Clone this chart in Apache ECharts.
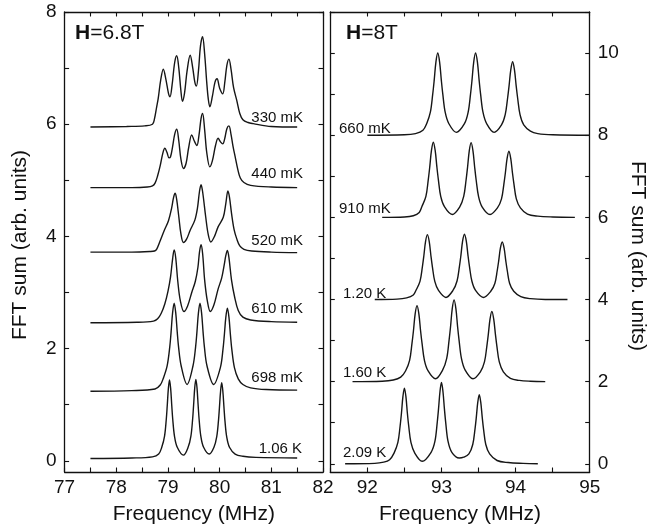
<!DOCTYPE html>
<html>
<head>
<meta charset="utf-8">
<script src="https://cdn.jsdelivr.net/npm/echarts@6/dist/echarts.min.js"></script>
<style>
html,body{margin:0;padding:0;background:#fff;}
#chart{width:648px;height:532px;}
</style>
</head>
<body>
<div id="chart"></div>
<script>
// ---------- DATA ----------
// Left panel, H = 6.8 T : [frequency MHz, FFT sum]
const c330mK = [[77.5,5.95],[78.2,5.96],[78.55,5.97],[78.70,6.0],[78.74,6.1],[78.78,6.3],[78.81,6.45],[78.86,6.79],[78.91,6.98],[78.96,6.8],[79.01,6.55],[79.04,6.49],[79.08,6.7],[79.13,7.1],[79.17,7.22],[79.21,7.0],[79.25,6.6],[79.28,6.41],[79.32,6.55],[79.37,6.95],[79.43,7.23],[79.48,7.0],[79.52,6.75],[79.55,6.68],[79.59,6.95],[79.63,7.4],[79.67,7.56],[79.71,7.25],[79.75,6.75],[79.78,6.45],[79.81,6.31],[79.86,6.5],[79.91,6.75],[79.95,6.81],[80.0,6.64],[80.06,6.54],[80.10,6.75],[80.14,7.05],[80.18,7.16],[80.22,6.98],[80.27,6.65],[80.33,6.43],[80.39,6.19],[80.45,6.08],[80.55,6.03],[80.65,6.01],[81.0,5.96],[81.5,5.95]];
const c440mK = [[77.5,4.87],[78.3,4.87],[78.6,4.88],[78.70,4.9],[78.75,4.95],[78.80,5.08],[78.85,5.26],[78.90,5.48],[78.94,5.57],[78.98,5.5],[79.02,5.4],[79.05,5.42],[79.09,5.6],[79.13,5.82],[79.17,5.91],[79.21,5.7],[79.25,5.38],[79.30,5.21],[79.35,5.3],[79.40,5.58],[79.46,5.81],[79.51,5.7],[79.56,5.62],[79.60,5.8],[79.64,6.1],[79.67,6.19],[79.71,5.9],[79.75,5.5],[79.81,5.24],[79.86,5.35],[79.92,5.62],[79.97,5.75],[80.02,5.68],[80.06,5.65],[80.10,5.75],[80.14,5.92],[80.18,5.97],[80.22,5.82],[80.26,5.6],[80.30,5.42],[80.35,5.2],[80.40,5.04],[80.47,4.96],[80.6,4.91],[81.0,4.88],[81.5,4.87]];
const c520mK = [[77.5,3.72],[78.3,3.72],[78.65,3.73],[78.74,3.74],[78.78,3.77],[78.84,3.9],[78.93,4.11],[79.01,4.28],[79.07,4.5],[79.11,4.7],[79.14,4.77],[79.17,4.65],[79.21,4.35],[79.25,4.05],[79.30,3.89],[79.36,3.95],[79.43,4.11],[79.52,4.29],[79.57,4.5],[79.61,4.8],[79.64,4.92],[79.67,4.8],[79.73,4.35],[79.78,4.03],[79.83,3.90],[79.90,4.0],[79.97,4.17],[80.07,4.34],[80.12,4.59],[80.16,4.81],[80.19,4.7],[80.23,4.41],[80.28,4.12],[80.33,3.96],[80.39,3.83],[80.47,3.77],[80.62,3.74],[81.0,3.72],[81.5,3.71]];
const c610mK = [[77.5,2.46],[78.4,2.47],[78.72,2.49],[78.80,2.53],[78.87,2.63],[78.94,2.8],[79.0,3.02],[79.05,3.28],[79.09,3.6],[79.12,3.76],[79.15,3.62],[79.19,3.2],[79.24,2.85],[79.31,2.66],[79.38,2.76],[79.46,3.0],[79.53,3.2],[79.58,3.45],[79.61,3.72],[79.64,3.85],[79.67,3.7],[79.71,3.22],[79.76,2.86],[79.82,2.66],[79.89,2.78],[79.97,3.06],[80.04,3.26],[80.09,3.5],[80.12,3.66],[80.15,3.75],[80.18,3.62],[80.23,3.22],[80.29,2.92],[80.36,2.68],[80.45,2.56],[80.6,2.51],[81.0,2.48],[81.5,2.47]];
const c698mK = [[77.5,1.24],[78.3,1.25],[78.75,1.28],[78.85,1.35],[78.91,1.47],[78.984,1.69],[79.035,2.03],[79.06,2.29],[79.09,2.64],[79.12,2.81],[79.15,2.64],[79.18,2.29],[79.205,2.03],[79.256,1.69],[79.37,1.36],[79.484,1.69],[79.535,2.03],[79.56,2.29],[79.59,2.64],[79.62,2.81],[79.65,2.64],[79.68,2.29],[79.705,2.03],[79.756,1.69],[79.885,1.36],[80.014,1.66],[80.065,1.99],[80.09,2.23],[80.12,2.56],[80.15,2.72],[80.18,2.56],[80.21,2.23],[80.235,1.99],[80.286,1.66],[80.36,1.46],[80.45,1.36],[80.6,1.30],[80.9,1.27],[81.5,1.26]];
const c106K = [[77.5,0.04],[78.3,0.05],[78.7,0.07],[78.82,0.12],[78.88,0.24],[78.934,0.44],[78.968,0.745],[78.986,0.98],[79.008,1.29],[79.03,1.44],[79.052,1.29],[79.074,0.98],[79.092,0.745],[79.126,0.44],[79.18,0.24],[79.30,0.10],[79.39,0.24],[79.444,0.44],[79.478,0.75],[79.496,0.99],[79.518,1.30],[79.54,1.45],[79.562,1.30],[79.584,0.99],[79.602,0.75],[79.636,0.44],[79.69,0.24],[79.80,0.12],[79.89,0.24],[79.944,0.43],[79.978,0.72],[79.996,0.95],[80.018,1.24],[80.04,1.39],[80.062,1.24],[80.084,0.95],[80.102,0.72],[80.136,0.43],[80.19,0.24],[80.30,0.12],[80.45,0.08],[80.7,0.06],[81.5,0.05]];

// Right panel, H = 8 T
const c660mK = [[92.0,8.0],[92.5,8.01],[92.65,8.04],[92.75,8.12],[92.80,8.28],[92.85,8.56],[92.882,9.0],[92.902,9.34],[92.925,9.78],[92.95,10.0],[92.975,9.78],[92.998,9.34],[93.018,9.0],[93.05,8.56],[93.10,8.28],[93.20,8.07],[93.31,8.28],[93.36,8.56],[93.392,9.0],[93.412,9.34],[93.435,9.78],[93.46,10.0],[93.485,9.78],[93.508,9.34],[93.528,9.0],[93.56,8.56],[93.61,8.28],[93.71,8.07],[93.81,8.25],[93.86,8.5],[93.892,8.9],[93.912,9.2],[93.935,9.59],[93.96,9.79],[93.985,9.59],[94.008,9.2],[94.028,8.9],[94.06,8.5],[94.11,8.25],[94.2,8.1],[94.3,8.04],[94.5,8.01],[95.0,8.0]];
const c910mK = [[92.2,6.0],[92.5,6.01],[92.62,6.04],[92.70,6.12],[92.735,6.26],[92.79,6.51],[92.822,6.92],[92.842,7.23],[92.865,7.63],[92.89,7.83],[92.915,7.63],[92.938,7.23],[92.958,6.92],[92.99,6.51],[93.04,6.26],[93.145,6.07],[93.245,6.25],[93.30,6.51],[93.332,6.91],[93.352,7.22],[93.375,7.62],[93.40,7.82],[93.425,7.62],[93.448,7.22],[93.468,6.91],[93.50,6.51],[93.55,6.25],[93.655,6.07],[93.755,6.23],[93.81,6.45],[93.842,6.81],[93.862,7.08],[93.885,7.43],[93.91,7.61],[93.935,7.43],[93.958,7.08],[93.978,6.81],[94.01,6.45],[94.065,6.23],[94.16,6.08],[94.3,6.03],[94.5,6.01],[94.8,6.0]];
const c120K = [[92.1,4.0],[92.4,4.01],[92.53,4.04],[92.62,4.11],[92.655,4.22],[92.71,4.44],[92.742,4.79],[92.762,5.06],[92.785,5.41],[92.81,5.58],[92.835,5.41],[92.858,5.06],[92.878,4.79],[92.91,4.44],[92.96,4.22],[93.06,4.05],[93.155,4.22],[93.21,4.45],[93.242,4.80],[93.262,5.07],[93.285,5.42],[93.31,5.59],[93.335,5.42],[93.358,5.07],[93.378,4.80],[93.41,4.45],[93.46,4.22],[93.565,4.05],[93.665,4.20],[93.72,4.39],[93.752,4.70],[93.772,4.94],[93.795,5.25],[93.82,5.40],[93.845,5.25],[93.868,4.94],[93.888,4.70],[93.92,4.39],[93.975,4.20],[94.07,4.07],[94.2,4.02],[94.4,4.0],[94.7,4.0]];
const c160K = [[91.8,2.0],[92.2,2.01],[92.35,2.04],[92.45,2.11],[92.515,2.26],[92.57,2.52],[92.602,2.93],[92.622,3.24],[92.645,3.65],[92.67,3.85],[92.695,3.65],[92.718,3.24],[92.738,2.93],[92.77,2.52],[92.82,2.26],[92.92,2.07],[93.015,2.28],[93.07,2.56],[93.102,3.0],[93.122,3.33],[93.145,3.77],[93.17,3.99],[93.195,3.77],[93.218,3.33],[93.238,3.0],[93.27,2.56],[93.32,2.28],[93.425,2.07],[93.525,2.24],[93.58,2.48],[93.612,2.86],[93.632,3.15],[93.655,3.52],[93.68,3.71],[93.705,3.52],[93.728,3.15],[93.748,2.86],[93.78,2.48],[93.835,2.24],[93.93,2.08],[94.05,2.03],[94.2,2.01],[94.4,2.0]];
const c209K = [[91.7,0.0],[92.1,0.01],[92.22,0.04],[92.30,0.10],[92.36,0.26],[92.412,0.52],[92.442,0.92],[92.46,1.23],[92.48,1.64],[92.50,1.84],[92.52,1.64],[92.54,1.23],[92.558,0.92],[92.588,0.52],[92.64,0.26],[92.74,0.06],[92.86,0.28],[92.912,0.55],[92.942,0.99],[92.96,1.33],[92.98,1.76],[93.0,1.98],[93.02,1.76],[93.04,1.33],[93.058,0.99],[93.088,0.55],[93.14,0.28],[93.24,0.14],[93.30,0.16],[93.37,0.24],[93.422,0.47],[93.452,0.84],[93.47,1.13],[93.49,1.50],[93.51,1.68],[93.53,1.50],[93.55,1.13],[93.568,0.84],[93.598,0.47],[93.65,0.24],[93.75,0.08],[93.9,0.03],[94.1,0.01],[94.3,0.0]];

const leftCurves = [c330mK, c440mK, c520mK, c610mK, c698mK, c106K];
const rightCurves = [c660mK, c910mK, c120K, c160K, c209K];
const leftNames = ['330 mK', '440 mK', '520 mK', '610 mK', '698 mK', '1.06 K'];
const rightNames = ['660 mK', '910 mK', '1.20 K', '1.60 K', '2.09 K'];

// Axis ticks / labels
const leftXRange = [77, 82];
const rightXRange = [91.5, 95];
const leftYTicks = [0,1,2,3,4,5,6,7,8];
const leftYLabels = [0,2,4,6,8];
const rightYTicks = [0,1,2,3,4,5,6,7,8,9,10,11];
const rightYLabels = [0,2,4,6,8,10];
const xTitle = 'Frequency (MHz)';
const yTitle = 'FFT sum (arb. units)';

// ---------- CHART ----------
const FONT = '"Liberation Sans", Arial, Helvetica, sans-serif';
const INK = '#111';
const chart = echarts.init(document.getElementById('chart'), null, {renderer: 'canvas'});

const axisLine = {show: true, onZero: false, lineStyle: {color: INK, width: 1.3}};
const tick = (extra) => Object.assign({show: true, inside: true, length: 4.5, lineStyle: {color: INK, width: 1.1}}, extra || {});

function xAxisDef(grid, range, bottom) {
  return {
    type: 'value', gridIndex: grid, min: range[0], max: range[1], interval: 0.5,
    position: bottom ? 'bottom' : 'top',
    axisLine: axisLine, axisTick: tick(), splitLine: {show: false},
    axisLabel: bottom ? {
      show: true, color: INK, fontSize: 19, fontFamily: FONT, margin: 6,
      formatter: v => (Math.abs(v - Math.round(v)) < 1e-6 ? String(Math.round(v)) : '')
    } : {show: false},
    name: bottom ? xTitle : '', nameLocation: 'middle', nameGap: 32,
    nameTextStyle: {color: INK, fontSize: 21, fontFamily: FONT}
  };
}
function yAxisDef(grid, max, ticks, labels, pos, showLabels) {
  return {
    type: 'value', gridIndex: grid, min: -0.2, max: max, position: pos,
    axisLine: axisLine, splitLine: {show: false},
    axisTick: tick({customValues: ticks}),
    axisLabel: showLabels ? {show: true, color: INK, fontSize: 19, fontFamily: FONT, margin: 8, customValues: labels}
                          : {show: false}
  };
}

const series = [];
leftCurves.forEach((d, i) => series.push({
  name: leftNames[i], type: 'line', xAxisIndex: 0, yAxisIndex: 0, data: d,
  showSymbol: false, symbol: 'none', smooth: 0.35, silent: true,
  lineStyle: {color: '#161616', width: 1.4}
}));
rightCurves.forEach((d, i) => series.push({
  name: rightNames[i], type: 'line', xAxisIndex: 2, yAxisIndex: 2, data: d,
  showSymbol: false, symbol: 'none', smooth: 0.35, silent: true,
  lineStyle: {color: '#161616', width: 1.4}
}));

// label layout (pixel positions of the annotations)
const leftLabelPos = [[303,125],[303,181.5],[303,248],[303,316.5],[303,385],[302,456]];
const rightLabelPos = [[339,136],[339,216.5],[343,301.5],[343,380],[343,460]];
const graphic = [];
leftNames.forEach((t, i) => graphic.push({type: 'text', x: leftLabelPos[i][0], y: leftLabelPos[i][1], silent: true,
  style: {text: t, fill: INK, font: '15px ' + FONT, textAlign: 'right', textVerticalAlign: 'bottom'}}));
rightNames.forEach((t, i) => graphic.push({type: 'text', x: rightLabelPos[i][0], y: rightLabelPos[i][1], silent: true,
  style: {text: t, fill: INK, font: '15px ' + FONT, textAlign: 'left', textVerticalAlign: 'bottom'}}));
graphic.push({type: 'text', x: 75, y: 23, silent: true,
  style: {text: '{b|H}=6.8T', fill: INK, font: '21px ' + FONT, textVerticalAlign: 'top',
    rich: {b: {fontWeight: 'bold', fontSize: 21, fontFamily: FONT, fill: INK}}}});
graphic.push({type: 'text', x: 346, y: 23, silent: true,
  style: {text: '{b|H}=8T', fill: INK, font: '21px ' + FONT, textVerticalAlign: 'top',
    rich: {b: {fontWeight: 'bold', fontSize: 21, fontFamily: FONT, fill: INK}}}});
graphic.push({type: 'text', x: 20, y: 245, rotation: Math.PI / 2, silent: true,
  style: {text: yTitle, fill: INK, font: '21px ' + FONT, textAlign: 'center', textVerticalAlign: 'middle'}});
graphic.push({type: 'text', x: 638, y: 256, rotation: -Math.PI / 2, silent: true,
  style: {text: yTitle, fill: INK, font: '21px ' + FONT, textAlign: 'center', textVerticalAlign: 'middle'}});

chart.setOption({
  backgroundColor: '#fff',
  animation: false,
  grid: [
    {left: 64.6, top: 12, width: 258.4, height: 460, containLabel: false},
    {left: 330.3, top: 12, width: 259.4, height: 460, containLabel: false}
  ],
  xAxis: [
    xAxisDef(0, leftXRange, true),
    xAxisDef(0, leftXRange, false),
    xAxisDef(1, rightXRange, true),
    xAxisDef(1, rightXRange, false)
  ],
  yAxis: [
    yAxisDef(0, 8, leftYTicks, leftYLabels, 'left', true),
    yAxisDef(0, 8, leftYTicks, leftYLabels, 'right', false),
    yAxisDef(1, 11, rightYTicks, rightYLabels, 'left', false),
    yAxisDef(1, 11, rightYTicks, rightYLabels, 'right', true)
  ],
  series: series,
  graphic: graphic
});
</script>
</body>
</html>
